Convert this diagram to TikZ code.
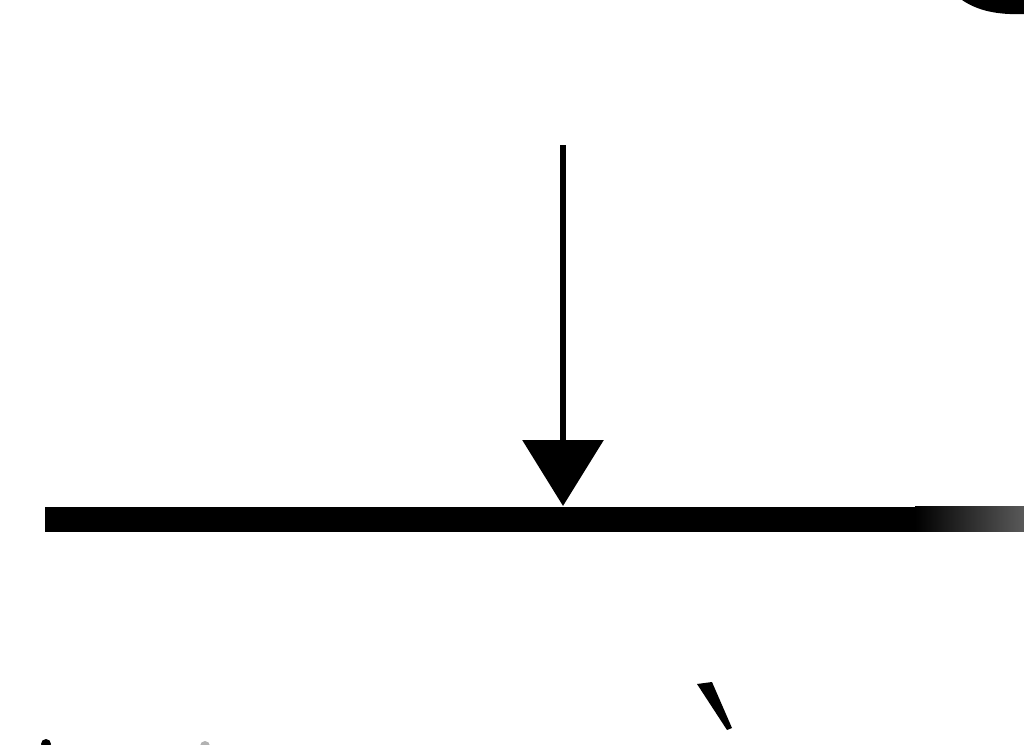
\documentclass[tikz,border=0pt]{standalone}
\usetikzlibrary{arrows.meta,positioning}
\tikzset{>={Triangle[length=66pt,width=80pt]},
  beam/.style={line width=25pt},
  load/.style={->,line width=6.5pt}}
\begin{document}
\begin{tikzpicture}[x=1pt,y=-1pt]
  \useasboundingbox (0,0) rectangle (1024,744);
  % beam and its blurred end
  \coordinate (b0) at (45,519);
  \coordinate (b1) at (915,519);
  \coordinate (top) at (563,145);
  \coordinate (hit) at (563,506);
  \draw[beam] (b0) -- (b1);
  \shade[left color=black,right color=black!65] (915,506.5) rectangle (1024,531.5);
  \draw[load] (top) -- (hit);
  % cut-off pieces at the edges
  \fill (962,0) .. controls (978,11) and (998,15) .. (1024,14) -- (1024,0) -- cycle;
  \fill (697,684) -- (712,682) -- (732,728) -- (727,730) -- cycle;
  \fill (46,744) circle (5);
  \fill[black!30] (205,746) circle (5);
\end{tikzpicture}
\end{document}
